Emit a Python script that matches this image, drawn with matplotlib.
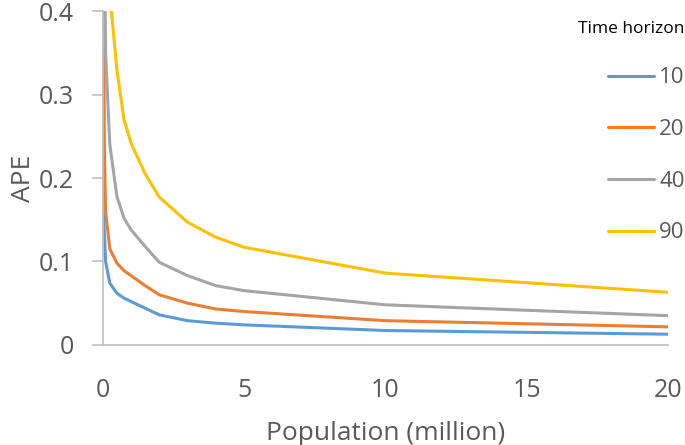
import matplotlib
matplotlib.use("Agg")
import matplotlib.pyplot as plt

population = [0.01, 0.05, 0.1, 0.25, 0.5, 0.75, 1, 1.5, 2, 3, 4, 5, 10, 20]
ape_10 = [0.5, 0.14, 0.10, 0.074, 0.062, 0.056, 0.052, 0.044, 0.036, 0.029, 0.026, 0.024, 0.0172, 0.0128]
ape_20 = [1.0, 0.25, 0.16, 0.115, 0.098, 0.089, 0.083, 0.071, 0.060, 0.050, 0.043, 0.040, 0.029, 0.0216]
ape_40 = [2.0, 0.55, 0.35, 0.24, 0.178, 0.152, 0.138, 0.118, 0.099, 0.083, 0.071, 0.065, 0.048, 0.035]
ape_90 = [4.0, 1.5, 0.9, 0.42, 0.33, 0.27, 0.242, 0.205, 0.177, 0.147, 0.129, 0.117, 0.086, 0.063]
series_labels = ["10", "20", "40", "90"]
colors = ["#5B9BD5", "#ED7D31", "#A5A5A5", "#FFC000"]
x_ticks = [0, 5, 10, 15, 20]
y_ticks = [0, 0.1, 0.2, 0.3, 0.4]
y_tick_labels = ["0", "0.1", "0.2", "0.3", "0.4"]

plt.rcParams['font.family'] = ['Open Sans', 'DejaVu Sans']
fig = plt.figure(figsize=(6.85, 4.45), dpi=100)
ax = fig.add_axes([0.150, 0.225, 0.825, 0.75])

for ys, lab, c in zip([ape_10, ape_20, ape_40, ape_90], series_labels, colors):
    ax.plot(population, ys, color=c, lw=2.2, label=lab, solid_capstyle='round')

ax.set_xlim(0, 20)
ax.set_ylim(0, 0.4)
ax.set_xticks(x_ticks)
ax.set_xticklabels([str(t) for t in x_ticks])
ax.set_yticks(y_ticks)
ax.set_yticklabels(y_tick_labels)
for s in ['top', 'right']:
    ax.spines[s].set_visible(False)
for s in ['left', 'bottom']:
    ax.spines[s].set_color('#BFBFBF')
    ax.spines[s].set_linewidth(1.2)
ax.tick_params(axis='y', colors='#BFBFBF', labelcolor='#595959', labelsize=18, length=8, width=1.2, pad=13)
ax.tick_params(axis='x', length=0, labelcolor='#595959', labelsize=18, pad=24)
ax.set_xlabel("Population (million)", fontsize=19, color='#595959', labelpad=13)
ax.set_ylabel("APE", fontsize=19, color='#595959', labelpad=2)

leg = ax.legend(loc='upper right', bbox_to_anchor=(1.065, 1.031), frameon=False,
                title="Time horizon", fontsize=16, title_fontsize=12.5,
                handlelength=2.07, handletextpad=0.22, labelspacing=1.38,
                alignment='right')
for t in leg.get_texts():
    t.set_color('#595959')

fig.savefig("out.png", dpi=100)
